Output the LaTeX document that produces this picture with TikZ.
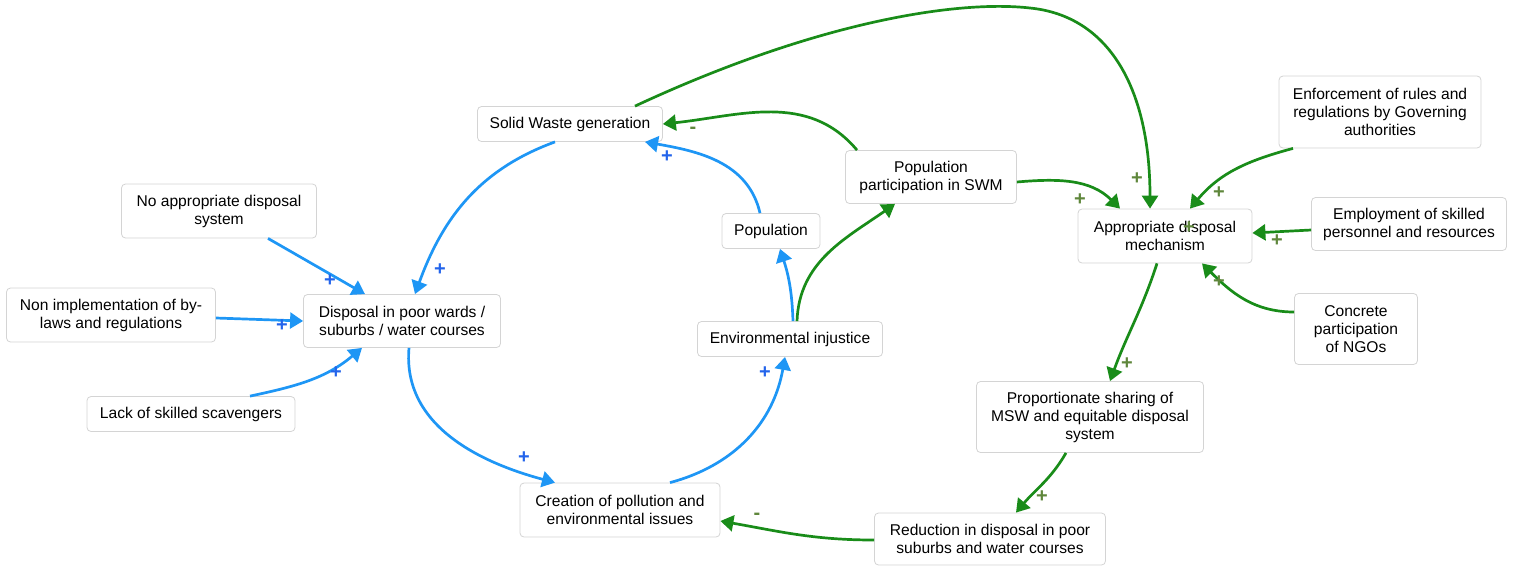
\documentclass[tikz,border=0pt]{standalone}
\usepackage{fontspec}
\setmainfont{Liberation Sans}
\usetikzlibrary{arrows.meta}
\definecolor{lineblue}{RGB}{30,150,245}
\definecolor{linegreen}{RGB}{25,140,25}
\definecolor{signblue}{RGB}{35,100,235}
\definecolor{signgreen}{RGB}{95,135,60}
\definecolor{boxgray}{RGB}{212,212,212}
\begin{document}
\begin{tikzpicture}[x=1pt,y=-1pt,
  box/.style={draw=boxgray, line width=0.8pt, fill=white, rounded corners=4pt, align=center,
    font=\fontsize{15.6}{18}\selectfont, inner sep=0pt},
  bl/.style={draw=lineblue, line width=2.7pt, -{Triangle[length=13pt,width=16pt]}},
  gr/.style={draw=linegreen, line width=2.7pt, -{Triangle[length=13pt,width=16pt]}},
  sb/.style={text=signblue, font=\fontsize{20}{20}\selectfont\bfseries, inner sep=0pt},
  sg/.style={text=signgreen, font=\fontsize{20}{20}\selectfont\bfseries, inner sep=0pt}]
\useasboundingbox (0,0) rectangle (1514,566);

% nodes
\node[box, minimum width=185pt, minimum height=35pt] (sw) at (570,124) {Solid Waste generation};
\node[box, minimum width=195pt, minimum height=54pt] (noapp) at (219,211) {No appropriate disposal\\system};
\node[box, minimum width=209pt, minimum height=54pt] (nonimp) at (111,315) {Non implementation of by-\\laws and regulations};
\node[box, minimum width=197pt, minimum height=53pt] (dis) at (402,321) {Disposal in poor wards /\\suburbs / water courses};
\node[box, minimum width=208pt, minimum height=35pt] (lack) at (191,414) {Lack of skilled scavengers};
\node[box, minimum width=98pt, minimum height=35pt] (pop) at (771,231) {Population};
\node[box, minimum width=171pt, minimum height=53pt] (pp) at (931,177) {Population\\participation in SWM};
\node[box, minimum width=185pt, minimum height=35pt] (ei) at (790,339) {Environmental injustice};
\node[box, minimum width=200pt, minimum height=54pt] (cre) at (620,510) {Creation of pollution and\\environmental issues};
\node[box, minimum width=174pt, minimum height=54pt] (app) at (1165,236) {Appropriate disposal\\mechanism};
\node[box, minimum width=202pt, minimum height=72pt] (enf) at (1380,112) {Enforcement of rules and\\regulations by Governing\\authorities};
\node[box, minimum width=195pt, minimum height=53pt] (emp) at (1409,224) {Employment of skilled\\personnel and resources};
\node[box, minimum width=123pt, minimum height=71pt] (ngo) at (1356,329) {Concrete\\participation\\of NGOs};
\node[box, minimum width=227pt, minimum height=71pt] (prop) at (1090,417) {Proportionate sharing of\\MSW and equitable disposal\\system};
\node[box, minimum width=231pt, minimum height=52pt] (red) at (990,539) {Reduction in disposal in poor\\suburbs and water courses};

% blue connectors
\draw[bl] ([xshift=-15pt]sw.south) to[out=200, in=70] ([xshift=13pt]dis.north);
\draw[bl] ([xshift=-11pt]pop.north) to[out=103, in=-10] ([xshift=75pt]sw.south);
\draw[bl] ([xshift=3pt]ei.north) to[out=92, in=-72] ([xshift=9pt]pop.south);
\draw[bl] ([xshift=50pt]cre.north) to[out=15, in=-100] ([xshift=-5pt]ei.south);
\draw[bl] ([xshift=7pt]dis.south) to[out=-95, in=165] ([xshift=-65pt]cre.north);
\draw[bl] ([xshift=49pt]noapp.south) -- ([xshift=-37pt]dis.north);
\draw[bl] ([yshift=-3pt]nonimp.east) -- (dis.west);
\draw[bl] ([xshift=59pt]lack.north) to[out=12, in=-140] ([xshift=-40pt]dis.south);

% green connectors
\draw[gr] ([xshift=7pt]ei.north) to[out=88, in=-145] ([xshift=-36pt]pp.south);
\draw[gr] ([xshift=-74pt]pp.north) to[out=130, in=6] (sw.east);
\draw[gr] ([xshift=65pt]sw.north) .. controls (820,20) and (960,0) .. (1030,8)
  .. controls (1110,16) and (1150,90) .. ([xshift=-15pt]app.north);
\draw[gr] ([yshift=-5pt]pp.east) to[out=5, in=135] ([xshift=-45pt]app.north);
\draw[gr] ([xshift=-87pt]enf.south) to[out=195, in=50] ([xshift=25pt]app.north);
\draw[gr] ([yshift=-6pt]emp.west) -- ([yshift=3pt]app.east);
\draw[gr] ([yshift=17pt]ngo.west) to[out=180, in=-45] ([xshift=37pt]app.south);
\draw[gr] ([xshift=-8pt]app.south) to[out=-108, in=70] ([xshift=20pt]prop.north);
\draw[gr] ([xshift=-24pt]prop.south) to[out=-120, in=50] ([xshift=26pt]red.north);
\draw[gr] ([yshift=-1pt]red.west) to[out=180, in=-10] ([yshift=-11pt]cre.east);

% polarity signs
\node[sb] (s1) at (440,270) {+};
\node[sb] (s2) at (667,157) {+};
\node[sb] (s3) at (765,373) {+};
\node[sb] (s4) at (524,458) {+};
\node[sb] (s5) at (330,281) {+};
\node[sb] (s6) at (282,326) {+};
\node[sb] (s7) at (336,373) {+};
\node[sg] (g1) at (693,130) {-};
\node[sg] (g2) at (1137,179) {+};
\node[sg] (g3) at (1080,200) {+};
\node[sg] (g4) at (1219,193) {+};
\node[sg] (g5) at (1277,241) {+};
\node[sg] (g6) at (1219,282) {+};
\node[sg] (g7) at (1127,364) {+};
\node[sg] (g8) at (1042,497) {+};
\node[sg] (g9) at (1189,228) {+};
\node[sg] (g10) at (757,516) {-};
\end{tikzpicture}
\end{document}
